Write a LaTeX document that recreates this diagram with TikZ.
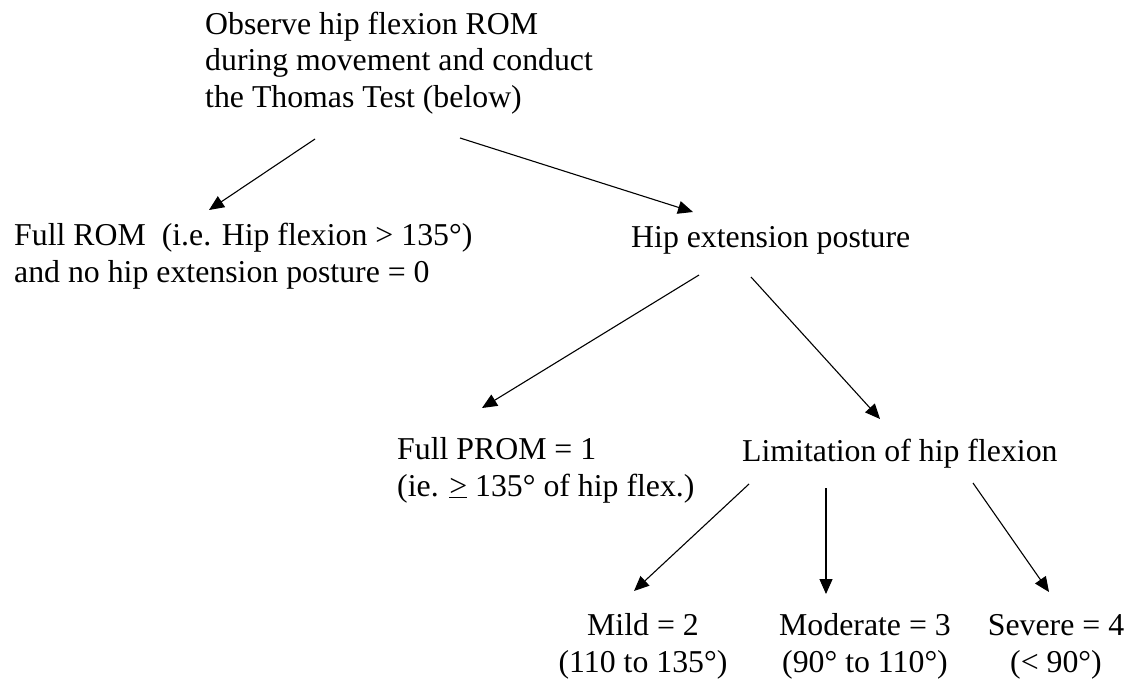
\documentclass[tikz,border=0pt]{standalone}
\usepackage{fontspec}
\setmainfont{Liberation Serif}
\usepackage{tikz}
\usetikzlibrary{arrows.meta}

\begin{document}
\begin{tikzpicture}[
  x=1pt, y=1pt,
  font=\fontsize{31.8}{36.5}\selectfont,
  lbl/.style={inner sep=0pt, align=left, anchor=base west},
  res/.style={inner sep=0pt, align=center, anchor=base},
  arr/.style={-{Triangle[length=15pt,width=13pt]}, line width=1.1pt}
]
\useasboundingbox (0,0) rectangle (1131,-681);

% base anchors sit on the last line of each label
\node[lbl] at (205,-107) (obs) {Observe hip flexion ROM\\during movement and conduct\\the Thomas Test (below)};
\node[lbl] at (14,-282) (fullrom) {Full ROM~ (i.e. Hip flexion > 135°)\\and no hip extension posture = 0};
\node[lbl] at (631,-247) (hipext) {Hip extension posture};
\node[lbl] at (397,-496) (fullprom) {Full PROM = 1\\(ie. \underline{>} 135° of hip flex.)};
\node[lbl] at (742,-461) (limit) {Limitation of hip flexion};
\node[res] at (643,-672) (mild) {Mild = 2\\(110 to 135°)};
\node[res] at (865,-672) (moderate) {Moderate = 3\\(90° to 110°)};
\node[res] at (1056,-672) (severe) {Severe = 4\\(< 90°)};

\draw[arr] ([shift={(110,-32)}]obs.base west) -- ([shift={(195,72)}]fullrom.base west);
\draw[arr] ([shift={(255,-31)}]obs.base west) -- ([shift={(62,35)}]hipext.base west);
\draw[arr] ([shift={(68,-28)}]hipext.base west) -- ([shift={(85,88)}]fullprom.base west);
\draw[arr] ([shift={(120,-30)}]hipext.base west) -- ([shift={(138,42)}]limit.base west);
\draw[arr] ([shift={(7,-23)}]limit.base west) -- ([shift={(-9,81)}]mild.base);
\draw[arr] ([shift={(84,-27)}]limit.base west) -- ([shift={(-39,78)}]moderate.base);
\draw[arr] ([shift={(231,-22)}]limit.base west) -- ([shift={(-7,80)}]severe.base);
\end{tikzpicture}
\end{document}
